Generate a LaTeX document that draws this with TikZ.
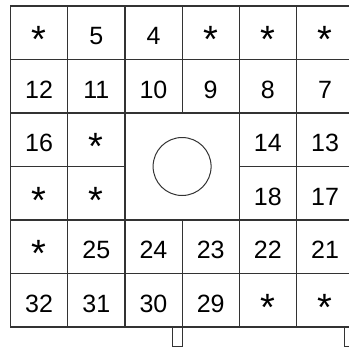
\documentclass[tikz,border=0pt]{standalone}
\usepackage{fontspec}
\setmainfont{Liberation Sans}
\begin{document}
\begin{tikzpicture}[x=1bp,y=-1bp,
  gridline/.style={line width=1.2bp,draw=black!80,line cap=rect},
  numtext/.style={anchor=base,inner sep=0pt,font=\fontsize{25bp}{30bp}\selectfont},
  startext/.style={anchor=base,inner sep=0pt,font=\fontsize{38bp}{42bp}\selectfont}]
\useasboundingbox (0,0) rectangle (349,348);
\clip (0,0) rectangle (349,348);
\def\cw{57.2}\def\rh{53.5}
\def\xa{10.5}\def\ya{6}
% horizontal lines
\foreach \r in {0,1,2,4,5,6}
  \draw[gridline] (\xa,\ya+\r*\rh) -- (\xa+6*\cw,\ya+\r*\rh);
\draw[gridline] (\xa,\ya+3*\rh) -- (\xa+2*\cw,\ya+3*\rh);
\draw[gridline] (\xa+4*\cw,\ya+3*\rh) -- (\xa+6*\cw,\ya+3*\rh);
% vertical lines
\foreach \c in {0,1,2,4,5}
  \draw[gridline] (\xa+\c*\cw,\ya) -- (\xa+\c*\cw,\ya+6*\rh);
\draw[gridline] (\xa+3*\cw,\ya) -- (\xa+3*\cw,\ya+2*\rh);
\draw[gridline] (\xa+3*\cw,\ya+4*\rh) -- (\xa+3*\cw,346.7);
% bottom tabs
\draw[gridline,line cap=butt] (172.7,\ya+6*\rh) -- (172.7,346.7) -- (\xa+3*\cw,346.7);
\draw[gridline,line cap=butt] (344.3,\ya+6*\rh) -- (344.3,346.7) -- (360,346.7);
% circle
\node[draw=black!80,line width=1bp,circle,minimum size=58bp,inner sep=0pt] (hole) at (\xa+3*\cw,\ya+3*\rh) {};
% numbers: row, col, text
\foreach \r/\c/\t in {
  1/2/5,1/3/4,
  2/1/12,2/2/11,2/3/10,2/4/9,2/5/8,2/6/7,
  3/1/16,3/5/14,3/6/13,
  4/5/18,4/6/17,
  5/2/25,5/3/24,5/4/23,5/5/22,5/6/21,
  6/1/32,6/2/31,6/3/30,6/4/29}
  \node[numtext] (n\r\c) at (\xa+\c*\cw-0.5*\cw,\ya+\r*\rh-\rh+38.5) {\t};
\foreach \r/\c in {1/1,1/4,1/5,1/6,3/2,4/1,4/2,5/1,6/5,6/6}
  \node[startext] (s\r\c) at (\xa+\c*\cw-0.5*\cw,\ya+\r*\rh-\rh+46.5) {*};
\end{tikzpicture}
\end{document}
